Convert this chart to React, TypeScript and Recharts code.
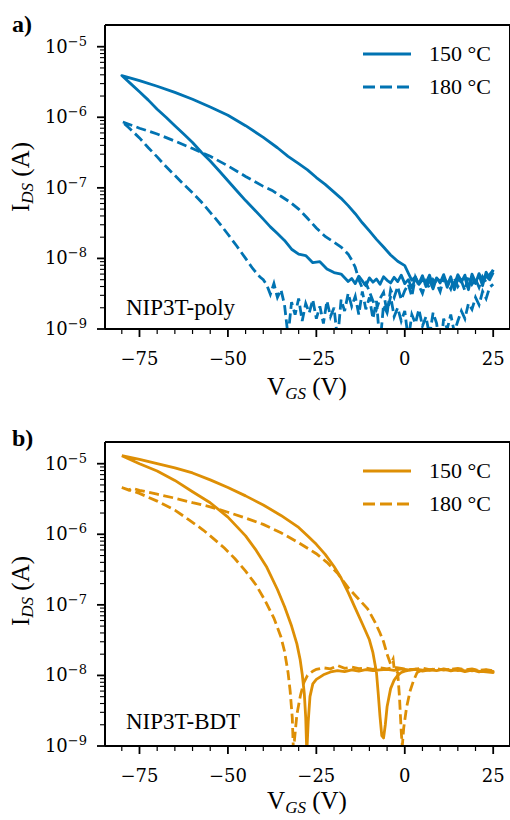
import React from "react";
import { LineChart, Line, XAxis, YAxis, Legend, ReferenceLine } from "recharts";

// each point: [V_GS in V, |I_DS| in nA], listed in sweep order (hysteresis loops)
type Pt = [number, number];

// ---------- a) NIP3T-poly ----------
const poly150: Pt[] = [
  [25, 6.9], [24, 5.2], [23, 6.4], [22, 4.1], [21, 5.8], [20, 4.6], [19, 6.0], [18, 3.6], [17, 5.4],
  [16, 4.8], [15, 5.9], [14, 4.2], [13, 5.1], [12, 3.9], [11, 5.6], [10, 4.7], [9, 5.3], [8, 4.0],
  [7, 5.8], [6, 4.5], [5, 5.0], [4, 4.3], [3, 5.5], [2, 4.9], [1, 6.2],
  [0, 7.9], [-2, 9.1], [-4, 11.2], [-6, 14.5], [-8, 18.6], [-10, 24.5], [-12, 32], [-14, 43], [-16, 56],
  [-18, 71], [-20, 87], [-22.5, 112], [-25, 140], [-27.5, 180], [-30, 220], [-33, 280], [-36, 370],
  [-40, 520], [-45, 760], [-50, 1070], [-55, 1400], [-60, 1800], [-65, 2250], [-70, 2750], [-75, 3300],
  [-80, 3900],
  [-77.5, 3000], [-75, 2300], [-72.5, 1750], [-70, 1300], [-67.5, 1000], [-65, 760], [-62.5, 580],
  [-60, 440], [-57.5, 320], [-55, 240], [-52.5, 175], [-50, 126], [-47.5, 91], [-45, 66], [-42.5, 49],
  [-40, 36], [-38, 28], [-36, 22.5], [-34, 18], [-32, 13.5], [-30, 11.5], [-28, 11], [-26, 8.7],
  [-24, 9], [-22, 7.1], [-20, 6.3], [-18, 6], [-16, 4.7],
  [-15, 5.2], [-14, 4.4], [-13, 5.6], [-12, 4.8], [-11, 4.1], [-10, 5.3], [-9, 4.6], [-8, 5.1],
  [-7, 4.3], [-6, 5.5], [-5, 4.9], [-4, 4.5], [-3, 5.4], [-2, 4.7], [-1, 5.8], [0, 4.4], [1, 5.0],
  [2, 3.8], [3, 5.2], [4, 4.4], [5, 5.7], [6, 4.0], [7, 4.9], [8, 3.7], [9, 5.3], [10, 4.5], [11, 5.9],
  [12, 4.2], [13, 5.5], [14, 3.6], [15, 5.1], [16, 4.6], [17, 5.8], [18, 3.9], [19, 5.4], [20, 4.4],
  [21, 6.1], [22, 4.8], [23, 5.6], [24, 5.0], [25, 6.3],
];

const poly180: Pt[] = [
  [25, 6.8], [24, 5.9], [23, 4.6], [22, 5.5], [21, 3.9], [20, 5.1], [19, 4.3], [18, 5.7], [17, 3.5],
  [16, 4.8], [15, 4.0], [14, 5.3], [13, 3.7], [12, 4.6], [11, 5.2], [10, 3.4], [9, 4.4], [8, 5.0],
  [7, 3.8], [6, 4.7], [5, 3.2], [4, 4.1], [3, 5.4], [2, 2.9], [1, 4.3], [0, 3.5], [-1, 2.6], [-2, 4.0],
  [-3, 2.8], [-4, 3.6], [-5, 1.7], [-6, 3.3], [-7, 2.7], [-8, 1.9], [-9, 2.5], [-10, 3.4], [-11, 4.5],
  [-12, 3.8], [-13, 5.0],
  [-14, 7.5], [-15, 9.5], [-16, 11.5], [-18, 14.5], [-20, 17], [-22.5, 20.5], [-25, 27], [-27.5, 37],
  [-30, 50], [-32.5, 63], [-35, 76], [-37.5, 92], [-40, 105], [-45, 145], [-50, 205], [-55, 280],
  [-60, 360], [-65, 460], [-70, 580], [-75, 700], [-80, 870],
  [-78, 710], [-75, 510], [-72.5, 370], [-70, 275], [-67.5, 200], [-65, 150], [-62.5, 112], [-60, 85],
  [-57.5, 63], [-55, 45], [-52.5, 32], [-50, 22], [-47.5, 15], [-45, 10], [-43, 7.2], [-41, 5.5], [-40, 5],
  [-39, 4.2], [-38, 3.1], [-37, 4.4], [-36, 2.8], [-35, 3.6], [-34, 2.2], [-33, 0.8], [-32, 2.4],
  [-31, 1.6], [-30, 2.7], [-29, 1.3], [-28, 2.3], [-27, 1.7], [-26, 2.6], [-25, 1.4], [-24, 2.1],
  [-23, 1.2], [-22, 2.5], [-21, 1.5], [-20, 2.0], [-19, 0.7], [-18, 2.6], [-17, 1.8], [-16, 3.2],
  [-15, 2.1], [-14, 2.9], [-13, 1.6], [-12, 3.4], [-11, 1.9], [-10, 2.8], [-9, 1.4], [-8, 2.5], [-7, 0.6],
  [-6, 2.2], [-5, 1.7], [-4, 2.9], [-3, 1.5], [-2, 2.0], [-1, 1.3], [0, 1.8], [1, 0.7], [2, 1.6], [3, 1.2],
  [4, 1.9], [5, 1.1], [6, 1.5], [7, 0.8], [8, 1.7], [9, 1.2], [10, 0.5], [11, 1.4], [12, 1.0], [13, 1.6],
  [14, 0.9], [15, 1.3], [16, 1.8], [17, 1.4], [18, 2.3], [19, 1.9], [20, 2.8], [21, 2.2], [22, 3.4],
  [23, 2.7], [24, 3.9], [25, 4.3],
];

// ---------- b) NIP3T-BDT ----------
const bdt150: Pt[] = [
  [-80, 13000], [-75, 11500], [-70, 10000], [-65, 8700], [-60, 7400], [-55, 5900], [-50, 4600],
  [-45, 3500], [-40, 2600], [-35, 1850], [-30, 1250], [-27.5, 950], [-25, 720], [-22.5, 520], [-20, 350],
  [-18, 240], [-16, 150], [-14, 90], [-12, 54], [-10, 32], [-9, 21], [-8, 11], [-7.5, 5.5], [-7, 2.6],
  [-6.5, 1.4], [-6, 1.3], [-5.5, 2.0], [-5, 3.6], [-4, 6.5], [-3, 8.6], [-2, 10], [-1, 11], [0, 11.5],
  [1, 11.8], [3, 12.2], [5, 11.5], [7, 12.0], [9, 11.7], [11, 12.3], [13, 11.6], [15, 12.1], [17, 11.3],
  [19, 11.9], [21, 11.5], [23, 11.2], [25, 11.0],
  [25, 11.4], [23, 11.9], [21, 11.2], [19, 12.0], [17, 11.6], [15, 12.2], [13, 11.8], [11, 12.4],
  [9, 11.7], [7, 12.1], [5, 11.9], [3, 12.3], [1, 12.0], [-1, 12.4], [-3, 11.8], [-5, 12.2], [-7, 12.0],
  [-9, 11.7], [-11, 12.1], [-13, 11.5], [-15, 12.0], [-17, 11.3], [-19, 11.7], [-21, 11.2], [-23, 10.2],
  [-25, 8.8], [-26, 7.6], [-26.8, 5.0], [-27.3, 2.2], [-27.7, 0.8], [-28, 2.5], [-28.4, 5.5], [-29, 10.5],
  [-29.6, 17], [-30.5, 28], [-32, 50], [-34, 95], [-36, 165], [-39, 340], [-42, 590], [-45, 950],
  [-50, 1750], [-55, 2800], [-60, 4000], [-65, 5800], [-70, 7900], [-75, 10000], [-80, 13000],
];

const bdt180: Pt[] = [
  [-80, 4600], [-78, 4200], [-77, 4500], [-75, 4200], [-70, 3700], [-65, 3250], [-60, 2800], [-55, 2450],
  [-50, 2050], [-45, 1700], [-40, 1380], [-35, 1050], [-30, 760], [-25, 530], [-22, 400], [-19, 280],
  [-16, 175], [-13, 120], [-10.5, 88], [-8.5, 58], [-7, 40], [-6, 30], [-5, 20], [-4, 14.5], [-3.3, 17],
  [-3, 12.5], [-2, 11], [-1.5, 5], [-1, 1.6], [-0.7, 1.0], [-0.3, 1.8], [0.5, 3.5], [1.5, 6], [2.5, 8.5],
  [3.5, 11], [5, 12.1], [7, 11.8], [9, 12.4], [11, 11.9], [13, 12.3], [15, 11.7], [17, 12.2], [19, 11.6],
  [21, 12.0], [23, 11.5], [25, 11.9],
  [25, 11.6], [23, 12.1], [21, 11.8], [19, 12.4], [17, 12.0], [15, 12.6], [13, 12.2], [11, 11.9],
  [9, 12.5], [7, 12.1], [5, 12.7], [3, 12.3], [1, 12.0], [-1, 12.6], [-3, 13.0], [-5, 12.4], [-7, 12.8],
  [-9, 12.2], [-11, 12.7], [-13, 12.5], [-15, 13.1], [-17, 12.6], [-19, 13.8], [-21, 12.4], [-23, 12.8],
  [-25, 12.2], [-26, 11.5], [-27.5, 10], [-28.5, 8], [-29.5, 5.2], [-30.5, 2.8], [-31.2, 1.2], [-31.5, 0.9],
  [-31.8, 2.5], [-32.4, 6], [-33, 11], [-34, 22], [-35, 35], [-37, 65], [-39.5, 115], [-42, 190],
  [-45, 300], [-48, 450], [-51, 640], [-54, 860], [-57, 1150], [-61, 1600], [-65, 2200], [-70, 2950],
  [-75, 3800], [-80, 4600],
];

const seriesNames = ["150 °C", "180 °C"];
const xTicks = [-80, -75, -70, -65, -60, -55, -50, -45, -40, -35, -30, -25, -20, -15, -10, -5, 0, 5, 10, 15, 20, 25];
const decadeExps = [-9, -8, -7, -6];
const mantissas = [1, 2, 3, 4, 5, 6, 7, 8, 9];
const yTicks = [...decadeExps.flatMap((e) => mantissas.map((m) => +(m * 10 ** e).toPrecision(2))), 1e-5];

const X_DOMAIN: [number, number] = [-84.75, 29.75];
const Y_DOMAIN: [number, number] = [1e-9, 2.03e-5];

const BLUE = "#0173b2";
const ORANGE = "#de8f05";
const SERIF = '"Liberation Serif", "Times New Roman", serif';
const MATH = '"DejaVu Serif", serif';

const toData = (pts: Pt[]) => pts.map(([v, i]) => ({ v, i: i * 1e-9 }));

const renderXTick = (p: any) => {
  const v = p.payload.value;
  const major = v % 25 === 0;
  return (
    <g>
      <line x1={p.x} x2={p.x} y1={p.y} y2={p.y + (major ? 8 : 5)} stroke="#000" strokeWidth={major ? 1.8 : 1.2} />
      {major && (
        <text x={p.x} y={p.y + 36} textAnchor="middle" fontFamily={MATH} fontSize={18} fill="#000">
          {v < 0 ? `\u2212${-v}` : v}
        </text>
      )}
    </g>
  );
};

const renderYTick = (p: any) => {
  const v = p.payload.value;
  const e = Math.round(Math.log10(v));
  const major = Math.abs(v / 10 ** e - 1) < 1e-6;
  return (
    <g>
      <line x1={p.x} x2={p.x - (major ? 8 : 5)} y1={p.y} y2={p.y} stroke="#000" strokeWidth={major ? 1.8 : 1.1} />
      {major && (
        <text x={p.x - 18} y={p.y + 6} textAnchor="end" fontFamily={MATH} fontSize={18} fill="#000">
          10
          <tspan dy={-7} fontSize={13}>{`\u2212${-e}`}</tspan>
        </text>
      )}
    </g>
  );
};

const renderLegend = (props: any) => (
  <div style={{ fontFamily: SERIF, fontSize: 22, color: "#000" }}>
    {(props.payload || []).map((e: any) => (
      <div key={e.value} style={{ display: "flex", alignItems: "center", height: 33 }}>
        <svg width={48} height={6} style={{ marginRight: 18 }}>
          <line
            x1={0}
            x2={48}
            y1={3}
            y2={3}
            stroke={e.color}
            strokeWidth={2.8}
            strokeDasharray={e.payload && e.payload.strokeDasharray ? "12 5" : undefined}
          />
        </svg>
        <span style={{ lineHeight: 1 }}>{e.value}</span>
      </div>
    ))}
  </div>
);

function Panel({ top, height, color, s150, s180 }: { top: number; height: number; color: string; s150: Pt[]; s180: Pt[] }) {
  return (
    <div style={{ position: "absolute", left: 0, top, width: 510, height }}>
      <LineChart width={510} height={height} margin={{ top: 25, right: 0, left: 35, bottom: height - 329 - 40 }}>
        <XAxis
          dataKey="v"
          type="number"
          domain={X_DOMAIN}
          allowDataOverflow
          ticks={xTicks}
          interval={0}
          height={40}
          tickSize={0}
          tickMargin={0}
          tickLine={false}
          tick={renderXTick}
          axisLine={{ stroke: "#000", strokeWidth: 2 }}
        />
        <YAxis
          type="number"
          scale="log"
          domain={Y_DOMAIN}
          allowDataOverflow
          ticks={yTicks}
          interval={0}
          width={70}
          tickSize={0}
          tickMargin={0}
          tickLine={false}
          tick={renderYTick}
          axisLine={{ stroke: "#000", strokeWidth: 2 }}
        />
        <ReferenceLine y={Y_DOMAIN[1]} stroke="#000" strokeWidth={2} />
        <ReferenceLine x={X_DOMAIN[1]} stroke="#000" strokeWidth={2} />
        <Line
          data={toData(s150)}
          dataKey="i"
          name={seriesNames[0]}
          stroke={color}
          strokeWidth={2.8}
          strokeLinejoin="round"
          dot={false}
          isAnimationActive={false}
        />
        <Line
          data={toData(s180)}
          dataKey="i"
          name={seriesNames[1]}
          stroke={color}
          strokeWidth={2.8}
          strokeDasharray="10 4.5"
          dot={false}
          isAnimationActive={false}
        />
        <Legend
          layout="horizontal"
          verticalAlign="middle"
          align="center"
          wrapperStyle={{ left: 363, top: 37, width: 140 }}
          content={renderLegend}
        />
      </LineChart>
    </div>
  );
}

function AxisTexts({ dy, tag, name }: { dy: number; tag: string; name: string }) {
  return (
    <g fontFamily={SERIF} fill="#000">
      <text x={12} y={32 + dy} fontSize={24} fontWeight="bold">{tag}</text>
      <text x={126} y={315 + dy} fontSize={23}>{name}</text>
      <text x={307} y={395 + dy} fontSize={25} textAnchor="middle">
        V<tspan fontStyle="italic" fontSize={17} dy={4}>GS</tspan>
        <tspan dy={-4}> (V)</tspan>
      </text>
      <text transform="rotate(-90)" x={-(177 + dy)} y={29} fontSize={25} textAnchor="middle">
        I<tspan fontStyle="italic" fontSize={17} dy={4}>DS</tspan>
        <tspan dy={-4}> (A)</tspan>
      </text>
    </g>
  );
}

export default function App() {
  return (
    <div style={{ position: "absolute", left: 0, top: 0, width: 510, height: 820, overflow: "hidden", background: "#fff" }}>
      <Panel top={0} height={410} color={BLUE} s150={poly150} s180={poly180} />
      <Panel top={417} height={403} color={ORANGE} s150={bdt150} s180={bdt180} />
      <svg width={510} height={820} style={{ position: "absolute", left: 0, top: 0, pointerEvents: "none" }}>
        <AxisTexts dy={0} tag="a)" name="NIP3T-poly" />
        <AxisTexts dy={414} tag="b)" name="NIP3T-BDT" />
      </svg>
    </div>
  );
}
